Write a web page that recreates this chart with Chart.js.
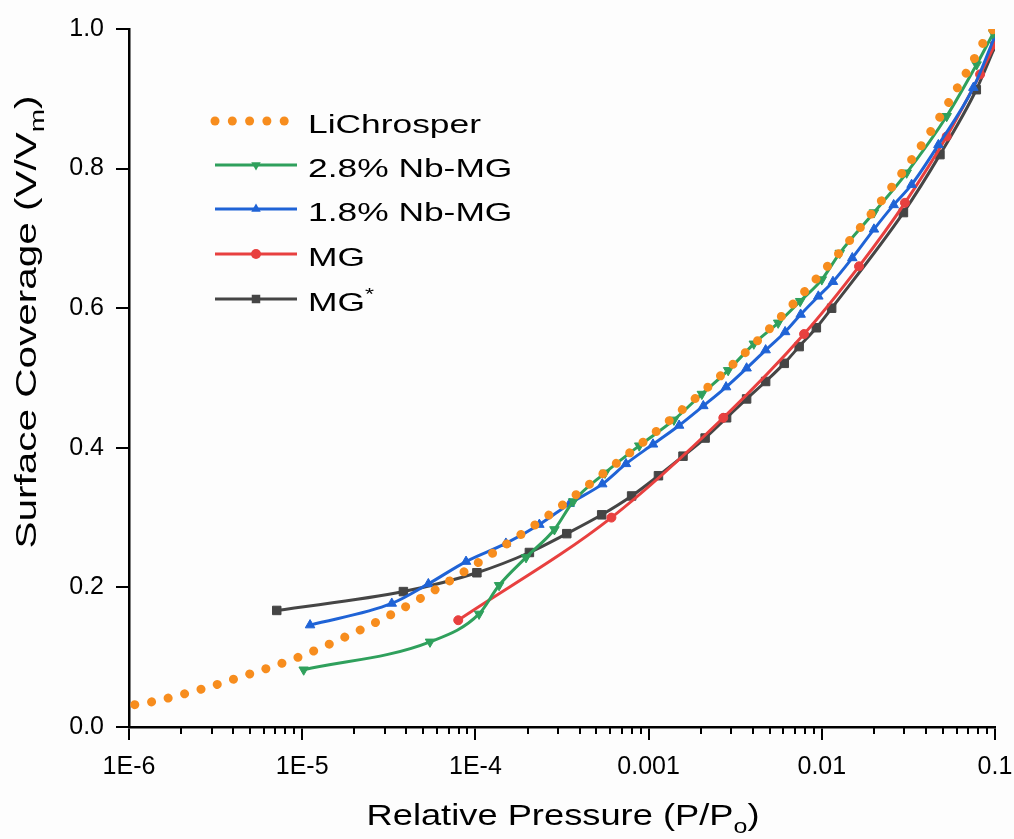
<!DOCTYPE html>
<html>
<head>
<meta charset="utf-8">
<script src="https://cdn.jsdelivr.net/npm/chart.js@4.4.1/dist/chart.umd.min.js"></script>
<style>
  html, body { margin: 0; padding: 0; background: #fdfdfd; }
  #wrap { width: 1014px; height: 839px; position: relative; }
</style>
</head>
<body>
<div id="wrap"><canvas id="chart"></canvas></div>
<script>
const FONT = '"Liberation Sans", Arial, sans-serif';

// axis ticks
const xTickValues = [1e-6, 1e-5, 1e-4, 1e-3, 1e-2, 1e-1];
const xTickLabels = ['1E-6', '1E-5', '1E-4', '0.001', '0.01', '0.1'];
const yTickValues = [0, 0.2, 0.4, 0.6, 0.8, 1.0];
const yTickLabels = ['0.0', '0.2', '0.4', '0.6', '0.8', '1.0'];

const seriesNames = ['LiChrosper', '2.8% Nb-MG', '1.8% Nb-MG', 'MG', 'MG'];
const seriesColors = ['#F78D1E', '#2FA05C', '#1F63D6', '#E8403F', '#454545'];

// LiChrosper (dotted reference curve)
const lichroP = [1.08e-6, 1.35e-6, 2.6e-6, 4.98e-6, 9.5e-6, 1.77e-5, 3.2e-5, 5.8e-5, 1.24e-4, 2.6e-4,
                 5.4e-4, 1.09e-3, 2.18e-3, 4.2e-3, 7.9e-3, 1.46e-2, 2.56e-2, 4.3e-2, 6.9e-2, 9.6e-2, 0.1];
const lichroV = [0.032, 0.036, 0.054, 0.076, 0.100, 0.129, 0.160, 0.196, 0.248, 0.302,
                 0.362, 0.422, 0.486, 0.552, 0.623, 0.698, 0.775, 0.855, 0.939, 0.998, 1.0];

// 2.8% Nb-MG
const nb28P = [1.02e-5, 5.47e-5, 1.05e-4, 1.37e-4, 1.96e-4, 2.86e-4, 3.67e-4, 5.6e-4, 8.83e-4, 1.40e-3,
               2.03e-3, 2.88e-3, 4.05e-3, 5.6e-3, 7.5e-3, 1.0e-2, 1.27e-2, 2.0e-2, 3.09e-2, 5.26e-2, 7.83e-2, 9.77e-2];
const nb28V = [0.082, 0.122, 0.162, 0.203, 0.243, 0.283, 0.323, 0.364, 0.403, 0.440,
               0.477, 0.511, 0.549, 0.579, 0.610, 0.641, 0.679, 0.737, 0.794, 0.875, 0.949, 0.994];

// 1.8% Nb-MG
const nb18P = [1.11e-5, 3.29e-5, 5.35e-5, 8.83e-5, 1.5e-4, 2.34e-4, 3.5e-4, 5.4e-4, 7.4e-4, 1.06e-3,
               1.5e-3, 2.07e-3, 2.8e-3, 3.68e-3, 4.74e-3, 6.14e-3, 7.55e-3, 9.55e-3, 1.16e-2, 1.5e-2,
               2.0e-2, 2.6e-2, 3.3e-2, 4.71e-2, 7.5e-2, 0.1];
const nb18V = [0.146, 0.177, 0.205, 0.237, 0.263, 0.290, 0.320, 0.348, 0.377, 0.405,
               0.432, 0.460, 0.487, 0.514, 0.540, 0.566, 0.591, 0.617, 0.638, 0.672,
               0.713, 0.748, 0.777, 0.834, 0.916, 0.990];

// MG
const mgP = [7.96e-5, 6.1e-4, 2.7e-3, 7.9e-3, 1.64e-2, 3.02e-2, 5.26e-2, 8.2e-2, 0.1];
const mgV = [0.153, 0.300, 0.443, 0.563, 0.660, 0.751, 0.846, 0.935, 0.978];

// MG*
const mgsP = [7.13e-6, 3.84e-5, 1.02e-4, 2.05e-4, 3.37e-4, 5.36e-4, 7.98e-4, 1.14e-3, 1.58e-3, 2.12e-3,
              2.82e-3, 3.68e-3, 4.74e-3, 6.07e-3, 7.4e-3, 9.3e-3, 1.14e-2, 2.96e-2, 4.81e-2, 7.8e-2, 0.1];
const mgsV = [0.167, 0.194, 0.221, 0.250, 0.277, 0.304, 0.331, 0.360, 0.388, 0.414,
              0.443, 0.470, 0.495, 0.521, 0.545, 0.572, 0.600, 0.737, 0.820, 0.913, 0.975];

function pts(P, V) { return P.map((p, i) => ({ x: p, y: V[i] })); }

function lineSet(i, P, V, style, radius, rotation) {
  return {
    label: seriesNames[i],
    data: pts(P, V),
    showLine: true,
    borderColor: seriesColors[i],
    backgroundColor: seriesColors[i],
    borderWidth: 3,
    pointStyle: style,
    pointRadius: radius,
    pointRotation: rotation || 0,
    pointBorderWidth: 1,
    cubicInterpolationMode: 'monotone'
  };
}

// draws text pieces (normal / sub / superscript) squeezed or stretched to a given width
function drawParts(ctx, parts, cx, baseline, targetWidth, stretch) {
  let w = 0;
  parts.forEach(p => { ctx.font = p.size + 'px ' + FONT; p.w = ctx.measureText(p.t).width; w += p.w; });
  const s = stretch || targetWidth / w;
  ctx.save();
  ctx.translate(cx, baseline);
  ctx.scale(s, 1);
  let x = targetWidth ? -w / 2 : 0;
  parts.forEach(p => {
    ctx.font = p.size + 'px ' + FONT;
    ctx.fillText(p.t, x, p.dy || 0);
    x += p.w;
  });
  ctx.restore();
}

const minorTicks = {
  id: 'minorTicks',
  afterDraw(chart) {
    const { ctx, chartArea } = chart;
    const x = chart.scales.x;
    ctx.save();
    ctx.strokeStyle = '#000';
    ctx.lineWidth = 2;
    for (let i = 0; i < xTickValues.length - 1; i++) {
      for (let k = 2; k <= 9; k++) {
        const px = Math.round(x.getPixelForValue(k * xTickValues[i]));
        ctx.beginPath();
        ctx.moveTo(px, chartArea.bottom);
        ctx.lineTo(px, chartArea.bottom + 7);
        ctx.stroke();
      }
    }
    ctx.restore();
  }
};

const axisTitles = {
  id: 'axisTitles',
  afterDraw(chart) {
    const ctx = chart.ctx;
    ctx.save();
    ctx.fillStyle = '#000';
    ctx.textBaseline = 'alphabetic';
    drawParts(ctx, [
      { t: 'Relative Pressure (P/P', size: 29 },
      { t: 'o', size: 20, dy: 8 },
      { t: ')', size: 29 }
    ], 563, 825, 393);
    ctx.translate(36, 322);
    ctx.rotate(-Math.PI / 2);
    drawParts(ctx, [
      { t: 'Surface Coverage (V/V', size: 29 },
      { t: 'm', size: 20, dy: 8 },
      { t: ')', size: 29 }
    ], 0, 0, 453);
    ctx.restore();
  }
};

function marker(ctx, style, x, y, r, color) {
  ctx.fillStyle = color;
  ctx.beginPath();
  if (style === 'circle') {
    ctx.arc(x, y, r, 0, Math.PI * 2);
  } else if (style === 'rect') {
    const s = r * Math.SQRT1_2;
    ctx.rect(x - s, y - s, 2 * s, 2 * s);
  } else {
    const dir = style === 'down' ? -1 : 1;
    ctx.moveTo(x, y - dir * r);
    ctx.lineTo(x + r * 0.866, y + dir * r * 0.5);
    ctx.lineTo(x - r * 0.866, y + dir * r * 0.5);
    ctx.closePath();
  }
  ctx.fill();
}

const legendBox = {
  id: 'legendBox',
  afterDraw(chart) {
    const ctx = chart.ctx;
    const rows = [121, 165, 209, 254, 299];
    const styles = [null, 'down', 'up', 'circle', 'rect'];
    const radii = [0, 5.5, 5.5, 5, 6];
    ctx.save();
    rows.forEach((y, i) => {
      if (i === 0) {
        ctx.fillStyle = seriesColors[0];
        for (let k = 0; k < 5; k++) {
          ctx.beginPath();
          ctx.arc(215 + k * 17.3, y, 4.5, 0, Math.PI * 2);
          ctx.fill();
        }
      } else {
        ctx.strokeStyle = seriesColors[i];
        ctx.lineWidth = 3;
        ctx.beginPath();
        ctx.moveTo(215, y);
        ctx.lineTo(297, y);
        ctx.stroke();
        marker(ctx, styles[i], 256, y, radii[i], seriesColors[i]);
      }
      ctx.fillStyle = '#000';
      const parts = [{ t: seriesNames[i], size: 26 }];
      if (i === 4) parts.push({ t: '*', size: 17, dy: -11 });
      drawParts(ctx, parts, 308, y + 12, 0, 1.36);
    });
    ctx.restore();
  }
};

const axisGrid = { display: true, drawOnChartArea: false, drawTicks: true, tickLength: 13, color: '#000', lineWidth: 2 };
const axisBorder = { display: true, color: '#000', width: 2.5 };

new Chart(document.getElementById('chart'), {
  type: 'scatter',
  data: {
    datasets: [
      {
        label: seriesNames[0],
        data: pts(lichroP, lichroV),
        showLine: true,
        borderColor: seriesColors[0],
        borderWidth: 9,
        borderDash: [0.01, 17],
        borderCapStyle: 'round',
        pointRadius: 0,
        cubicInterpolationMode: 'monotone'
      },
      lineSet(1, nb28P, nb28V, 'triangle', 5.5, 180),
      lineSet(2, nb18P, nb18V, 'triangle', 5.5, 0),
      lineSet(3, mgP, mgV, 'circle', 4.5, 0),
      lineSet(4, mgsP, mgsV, 'rect', 6, 0)
    ]
  },
  options: {
    responsive: true,
    maintainAspectRatio: false,
    animation: false,
    layout: { padding: { top: 29, right: 19, left: 0, bottom: 0 } },
    plugins: { legend: { display: false }, tooltip: { enabled: false } },
    scales: {
      x: {
        type: 'logarithmic',
        min: 1e-6,
        max: 0.1,
        afterBuildTicks: s => { s.ticks = xTickValues.map(v => ({ value: v, major: true })); },
        afterFit: s => { s.height = 112; s.paddingRight = 0; s.paddingLeft = 0; },
        grid: axisGrid,
        border: axisBorder,
        ticks: {
          autoSkip: false, maxRotation: 0, padding: 12, color: '#000',
          font: { family: FONT, size: 25 },
          callback: (v, i) => xTickLabels[i]
        }
      },
      y: {
        min: 0,
        max: 1,
        afterBuildTicks: s => { s.ticks = yTickValues.map(v => ({ value: v })); },
        afterFit: s => { s.width = 129; },
        grid: axisGrid,
        border: axisBorder,
        ticks: {
          padding: 12, color: '#000',
          font: { family: FONT, size: 25 },
          callback: (v, i) => yTickLabels[i]
        }
      }
    }
  },
  plugins: [minorTicks, axisTitles, legendBox]
});
</script>
</body>
</html>
